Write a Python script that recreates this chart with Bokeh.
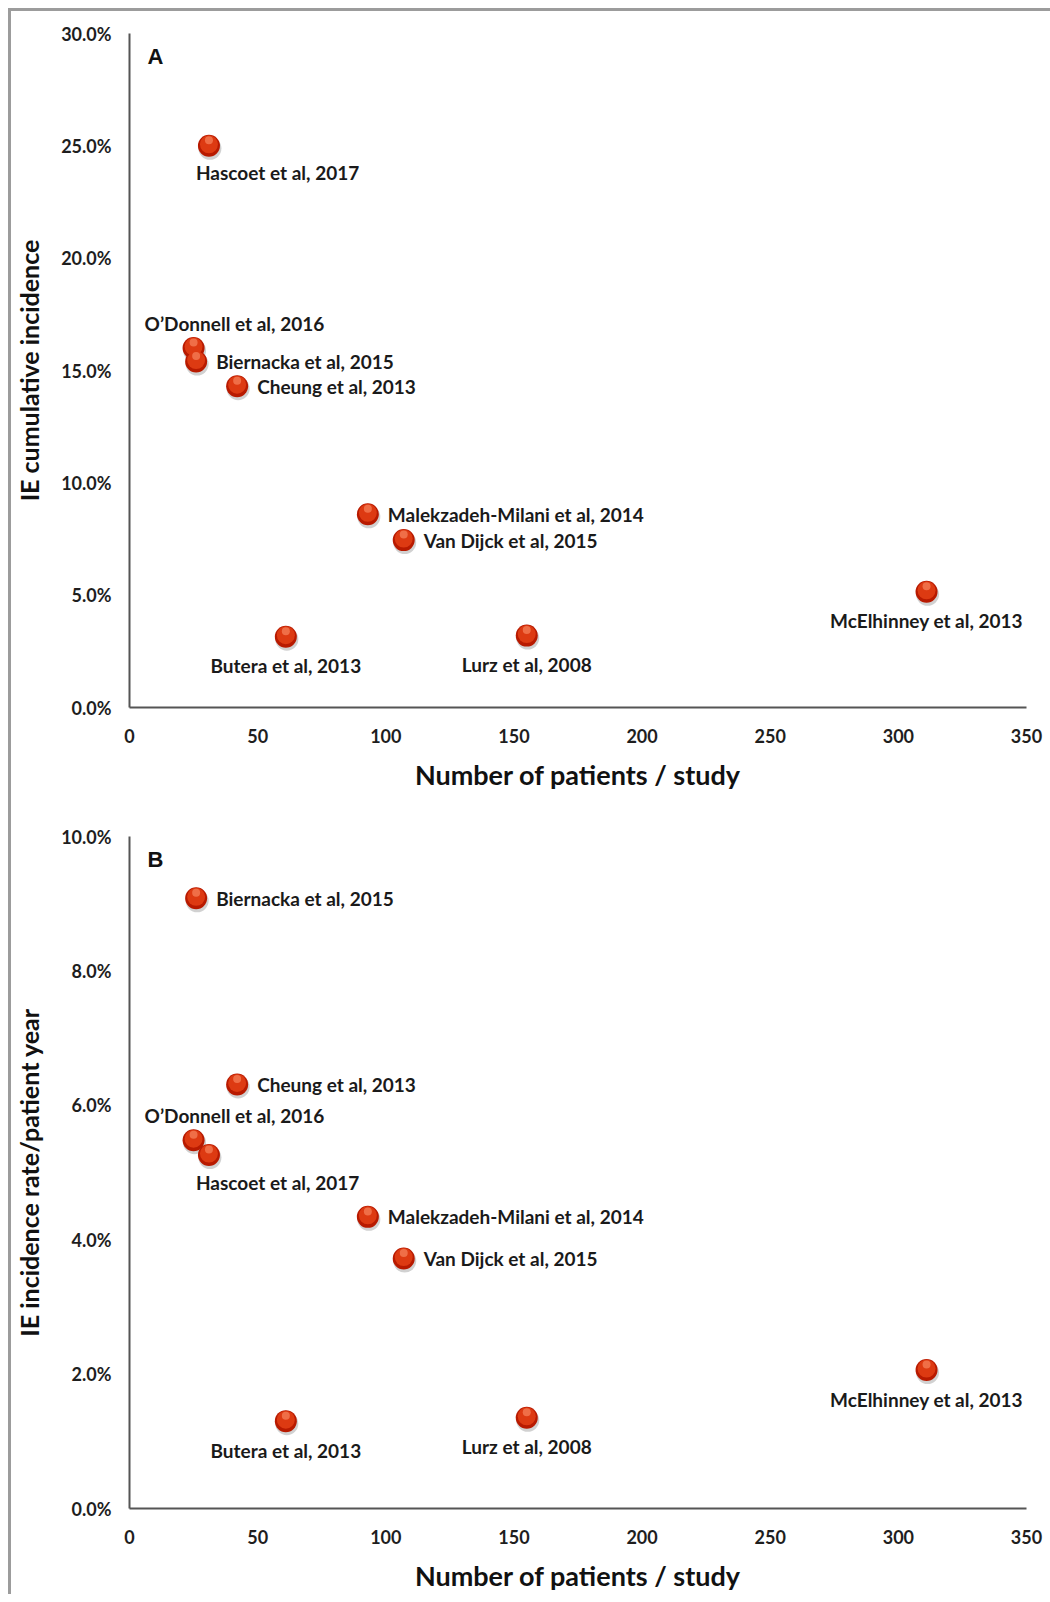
from bokeh.plotting import figure
from bokeh.models import ColumnDataSource, PrintfTickFormatter, FixedTicker, Label
from bokeh.layouts import column
from bokeh.embed import file_html
from bokeh.resources import INLINE
from bokeh.core.properties import value

# ---------------- data ----------------
studies = ["Hascoet et al, 2017", "O\u2019Donnell et al, 2016", "Biernacka et al, 2015",
           "Cheung et al, 2013", "Malekzadeh-Milani et al, 2014", "Van Dijck et al, 2015",
           "Butera et al, 2013", "Lurz et al, 2008", "McElhinney et al, 2013"]
patients = [31, 25, 26, 42, 93, 107, 61, 155, 311]
cum_incidence = [25.0, 16.0, 15.4, 14.3, 8.6, 7.45, 3.15, 3.2, 5.15]       # % (panel A)
rate_per_py = [5.26, 5.48, 9.08, 6.31, 4.34, 3.72, 1.30, 1.35, 2.06]        # % (panel B)

place_a = ["below_left", "above", "right", "right", "right", "right", "below", "below", "below"]
place_b = ["below_left", "above", "right", "right", "right", "right", "below", "below", "below"]

x_ticks = [0, 50, 100, 150, 200, 250, 300, 350]
y_ticks_a = [0, 5, 10, 15, 20, 25, 30]
y_ticks_b = [0, 2, 4, 6, 8, 10]

# ---------------- style ----------------
FONT = "Lato"
PLACEMENT = {
    "right": ("left", 20, 0),
    "above": ("left", -49, -25),
    "below_left": ("left", -13, 27),
    "below": ("center", 0, 29),
}


def make_panel(yvals, places, yticks, ymax, ytitle, letter, height, top, bottom, px_per_y):
    p = figure(width=1039, height=height, x_range=(0, 350), y_range=(0, ymax),
               output_backend="svg", toolbar_location=None,
               min_border_left=117, min_border_right=24,
               min_border_top=top, min_border_bottom=bottom)
    p.outline_line_color = None
    p.xgrid.visible = False
    p.ygrid.visible = False
    for ax in (p.xaxis[0], p.yaxis[0]):
        ax.axis_line_color = "#555555"
        ax.axis_line_width = 2
        ax.major_tick_line_color = None
        ax.minor_tick_line_color = None
        ax.major_label_text_font = FONT
        ax.major_label_text_font_style = "bold"
        ax.major_label_text_font_size = "18px"
        ax.major_label_text_color = "#1e1e1e"
        ax.axis_label_text_font = FONT
        ax.axis_label_text_font_style = "bold"
        ax.axis_label_text_color = "#111111"
    p.xaxis.major_label_standoff = 15
    p.yaxis.major_label_standoff = 12
    p.xaxis.ticker = FixedTicker(ticks=x_ticks)
    p.yaxis.ticker = FixedTicker(ticks=yticks)
    p.yaxis.formatter = PrintfTickFormatter(format="%.1f%%")
    p.xaxis.axis_label = "Number of patients / study"
    p.xaxis.axis_label_text_font_size = "27px"
    p.xaxis.axis_label_standoff = 12
    p.yaxis.axis_label = ytitle
    p.yaxis.axis_label_text_font_size = "25px"
    p.yaxis.axis_label_standoff = 14

    px_x = 898 / 350.0
    src = ColumnDataSource(dict(x=patients, y=yvals))
    shadow = ColumnDataSource(dict(x=[v + 1.0 / px_x for v in patients],
                                   y=[v - 2.5 / px_per_y for v in yvals]))
    mid = ColumnDataSource(dict(x=patients, y=[v + 1.5 / px_per_y for v in yvals]))
    hi = ColumnDataSource(dict(x=patients, y=[v + 5.5 / px_per_y for v in yvals]))
    p.scatter("x", "y", source=shadow, size=23, fill_color="#000000", fill_alpha=0.18, line_color=None)
    p.scatter("x", "y", source=src, size=22, fill_color="#b81a00", line_color=None)
    p.scatter("x", "y", source=mid, size=18, fill_color="#dd3a12", line_color=None)
    p.scatter("x", "y", source=hi, size=8, fill_color="#f6845e", fill_alpha=0.7, line_color=None)

    aligns, dxs, dys = [], [], []
    for pl in places:
        a, dx, dy = PLACEMENT[pl]
        aligns.append(a)
        dxs.append(dx)
        dys.append(dy)
    lsrc = ColumnDataSource(dict(x=patients, y=yvals, t=studies, al=aligns, dx=dxs, dy=dys))
    p.text("x", "y", text="t", source=lsrc, text_align="al", x_offset="dx", y_offset="dy",
           text_baseline="middle", text_font=value(FONT), text_font_style="bold",
           text_font_size="19px", text_color="#1a1a1a")

    p.add_layout(Label(x=7.0, y=ymax - 23.0 / px_per_y, text=letter, text_font="Liberation Sans",
                       text_font_style="bold", text_font_size="22px", text_color="#111111",
                       text_baseline="middle"))
    return p


pa = make_panel(cum_incidence, place_a, y_ticks_a, 30, "IE cumulative incidence", "A",
                height=800, top=22, bottom=104, px_per_y=674 / 30.0)
pb = make_panel(rate_per_py, place_b, y_ticks_b, 10, "IE incidence rate/patient year", "B",
                height=783, top=25, bottom=83, px_per_y=675 / 10.0)

layout = column(pa, pb, spacing=0,
                styles={"margin-left": "8px", "margin-top": "8px",
                        "border-left": "3px solid #9c9c9c", "border-top": "3px solid #9c9c9c"})

open("out.html", "w").write(file_html(layout, INLINE))
